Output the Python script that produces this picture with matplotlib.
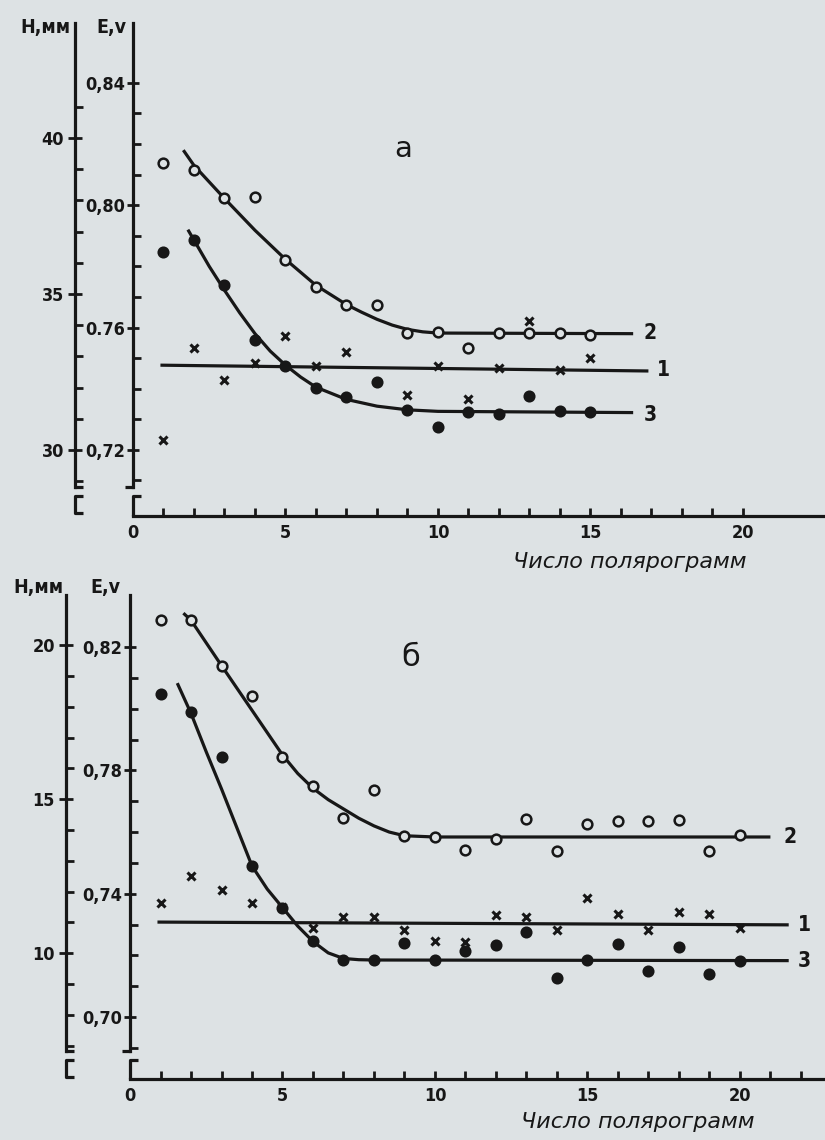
import matplotlib
matplotlib.use("Agg")
import matplotlib.pyplot as plt

plt.rcParams["font.family"] = ["DejaVu Sans"]

PAPER = "#dde2e4"
INK = "#171717"

# ---------- panel а (upper) ----------
a_x = [1, 2, 3, 4, 5, 6, 7, 8, 9, 10, 11, 12, 13, 14, 15]
a_e2 = [0.8137, 0.8115, 0.8025, 0.8028, 0.7821, 0.7734, 0.7674, 0.7674,
        0.7581, 0.7586, 0.7532, 0.7581, 0.7581, 0.7581, 0.7576]
a_e3 = [0.7848, 0.7886, 0.7739, 0.7559, 0.7475, 0.7404, 0.7374, 0.7423,
        0.7330, 0.7276, 0.7325, 0.7317, 0.7376, 0.7328, 0.7325]
a_x1 = [1, 2, 3, 4, 5, 6, 7, 9, 10, 11, 12, 13, 14, 15]
a_e1 = [0.7232, 0.7532, 0.7428, 0.7483, 0.7572, 0.7475, 0.7519, 0.7379,
        0.7475, 0.7365, 0.7467, 0.7622, 0.7461, 0.7499]
# hand drawn curves of the original
a_c2x = [1.65, 2, 3, 4, 5, 6, 7, 7.5, 8, 8.5, 9, 9.5, 10, 16.4]
a_c2e = [0.8180, 0.8130, 0.8022, 0.7918, 0.7823, 0.7738, 0.7675, 0.7650,
         0.7627, 0.7608, 0.7594, 0.7586, 0.7582, 0.7580]
a_c3x = [1.8, 2, 2.5, 3, 3.5, 4, 4.5, 5, 5.5, 6, 7, 8, 9, 10, 16.4]
a_c3e = [0.7920, 0.7886, 0.7800, 0.7722, 0.7648, 0.7580, 0.7523, 0.7477,
         0.7438, 0.7405, 0.7365, 0.7343, 0.7331, 0.7326, 0.7322]
a_c1x = [0.9, 16.9]
a_c1e = [0.7477, 0.7458]
a_lab = ["2", "1", "3"]
a_labx = [16.95, 17.4, 16.95]
a_labe = [0.7582, 0.7462, 0.7315]
a_eticks = [0.72, 0.76, 0.80, 0.84]
a_elabels = ["0,72", "0.76", "0,80", "0,84"]
a_eminor = [0.71, 0.73, 0.74, 0.75, 0.77, 0.78, 0.79, 0.81, 0.82, 0.83]
a_hticks = [30, 35, 40]
a_hminor = [29, 31, 32, 33, 34, 36, 37, 38, 39, 41]
a_href = [30, 40]
a_eref = [0.72, 0.822]

# ---------- panel б (lower) ----------
b_x = list(range(1, 21))
b_e2 = [0.8289, 0.8287, 0.8138, 0.8040, 0.7845, 0.7749, 0.7646, 0.7735,
        0.7586, 0.7583, 0.7543, 0.7578, 0.7641, 0.7538, 0.7627, 0.7635,
        0.7635, 0.7639, 0.7538, 0.7589]
b_e1 = [0.7369, 0.7456, 0.7413, 0.7369, 0.7358, 0.7288, 0.7323, 0.7326,
        0.7282, 0.7246, 0.7244, 0.7331, 0.7326, 0.7282, 0.7386, 0.7334,
        0.7282, 0.7340, 0.7334, 0.7290]
b_e3 = [0.8048, 0.7988, 0.7842, 0.7489, 0.7353, 0.7246, 0.7185, 0.7185,
        0.7239, 0.7185, 0.7214, 0.7233, 0.7277, 0.7127, 0.7185, 0.7237,
        0.7149, 0.7226, 0.7139, 0.7182]
b_c2x = [1.75, 2, 3, 4, 5, 5.5, 6, 6.5, 7, 7.5, 8, 8.5, 9, 10, 21.0]
b_c2e = [0.8310, 0.8287, 0.8140, 0.7995, 0.7850, 0.7790, 0.7742, 0.7705,
         0.7675, 0.7645, 0.7620, 0.7600, 0.7588, 0.7584, 0.7584]
b_c3x = [1.55, 2, 2.5, 3, 3.5, 4, 4.5, 5, 5.5, 6, 6.5, 7, 7.5, 8, 21.6]
b_c3e = [0.8083, 0.7985, 0.7860, 0.7740, 0.7615, 0.7490, 0.7415, 0.7355,
         0.7295, 0.7245, 0.7208, 0.7190, 0.7186, 0.7185, 0.7183]
b_c1x = [0.9, 21.6]
b_c1e = [0.7308, 0.7299]
b_lab = ["2", "1", "3"]
b_labx = [21.65, 22.1, 22.1]
b_labe = [0.7584, 0.7300, 0.7183]
b_eticks = [0.70, 0.74, 0.78, 0.82]
b_elabels = ["0,70", "0,74", "0,78", "0,82"]
b_eminor = [0.69, 0.71, 0.72, 0.73, 0.75, 0.76, 0.77, 0.79, 0.80, 0.81]
b_hticks = [10, 15, 20]
b_hminor = [7, 8, 9, 11, 12, 13, 14, 16, 17, 18, 19]
b_href = [10, 20]
b_eref = [0.7207, 0.8206]

x_major = [0, 5, 10, 15, 20]
x_label = "Число полярограмм"

fig = plt.figure(figsize=(8.25, 11.4), dpi=100, facecolor=PAPER)

TXT = dict(color=INK, family="DejaVu Sans", fontweight="bold",
           fontstretch="condensed")


def panel(rect, xlim, ylim, hloc, xminor, eticks, elabels, eminor,
          hticks, hminor, href, eref):
    ax = fig.add_axes(rect)
    ax.set_facecolor("none")
    ax.set_xlim(xlim)
    ax.set_ylim(ylim)
    for s in ["top", "right"]:
        ax.spines[s].set_visible(False)
    for s in ["left", "bottom"]:
        ax.spines[s].set_linewidth(2.3)
        ax.spines[s].set_color(INK)

    ax.set_yticks(eticks, elabels)
    ax.set_yticks(eminor, minor=True)
    ax.set_xticks(x_major, [str(v) for v in x_major])
    ax.set_xticks(xminor, minor=True)
    ax.tick_params(axis="y", which="major", direction="inout", length=9,
                   width=2, pad=1, colors=INK)
    ax.tick_params(axis="y", which="minor", direction="in", length=6,
                   width=2, colors=INK)
    ax.tick_params(axis="x", which="both", direction="in", length=6,
                   width=2, pad=6, colors=INK)
    for t in ax.get_yticklabels() + ax.get_xticklabels():
        t.set_fontsize(13)
        t.set_fontweight("bold")
        t.set_fontstretch("condensed")

    # second scale: H, mm
    k = (href[1] - href[0]) / (eref[1] - eref[0])
    hl = [href[0] + (y - eref[0]) * k for y in ylim]
    axh = ax.twinx()
    axh.set_ylim(hl)
    for s in ["top", "right", "bottom"]:
        axh.spines[s].set_visible(False)
    axh.spines["left"].set_visible(True)
    axh.spines["left"].set_position(("axes", hloc))
    axh.spines["left"].set_linewidth(2.3)
    axh.spines["left"].set_color(INK)
    axh.yaxis.set_ticks_position("left")
    axh.set_yticks(hticks, [str(v) for v in hticks])
    axh.set_yticks(hminor, minor=True)
    axh.tick_params(axis="y", which="major", direction="inout", length=10,
                    width=2, pad=3, colors=INK)
    axh.tick_params(axis="y", which="minor", direction="in", length=6,
                    width=2, colors=INK)
    for t in axh.get_yticklabels():
        t.set_fontsize(13)
        t.set_fontweight("bold")
        t.set_fontstretch("condensed")

    # broken axes near the origin
    up, lo = 0.058, 0.040
    ax.spines["left"].set_bounds(ylim[0] + up * (ylim[1] - ylim[0]), ylim[1])
    axh.spines["left"].set_bounds(hl[0] + up * (hl[1] - hl[0]), hl[1])
    kw = dict(transform=ax.transAxes, clip_on=False, color=INK, lw=2.3,
              solid_capstyle="butt")
    ax.plot([-0.012, 0.002], [up, up], **kw)
    ax.plot([0, 0, 0.012], [0, lo, lo], **kw)
    ax.plot([hloc - 0.002, hloc + 0.012], [up, up], **kw)
    ax.plot([hloc + 0.012, hloc, hloc, hloc + 0.012], [0.005, 0.005, lo, lo], **kw)
    return ax


def data(ax, x, e2, e3, x1, e1, c2x, c2e, c3x, c3e, c1x, c1e,
         lab, labx, labe):
    line = dict(color=INK, lw=2.3, solid_capstyle="butt", zorder=3)
    ax.plot(c2x, c2e, **line)
    ax.plot(c3x, c3e, **line)
    ax.plot(c1x, c1e, **line)
    ax.plot(x, e2, "o", ms=7, mfc=PAPER, mec=INK, mew=1.8, zorder=4,
            clip_on=False)
    ax.plot(x, e3, "o", ms=7.5, mfc=INK, mec=INK, mew=1.2, zorder=4)
    ax.plot(x1, e1, "x", ms=5.5, mew=2.2, color=INK, zorder=4)
    for s, lx, le in zip(lab, labx, labe):
        ax.text(lx, le, s, ha="center", va="center", fontsize=15, **TXT)


ax_a = panel([0.1612, 0.5474, 0.8388, 0.4325], (0, 22.69), (0.6984, 0.8596),
             -0.0838, list(range(1, 21)), a_eticks, a_elabels, a_eminor,
             a_hticks, a_hminor, a_href, a_eref)
data(ax_a, a_x, a_e2, a_e3, a_x1, a_e1, a_c2x, a_c2e, a_c3x, a_c3e,
     a_c1x, a_c1e, a_lab, a_labx, a_labe)
ax_a.text(8.85, 0.8185, "а", ha="center", va="center", fontsize=21,
          color=INK)
ax_a.text(0.718, -0.093, x_label, transform=ax_a.transAxes, ha="center",
          va="center", fontsize=16, fontstyle="italic", color=INK)

ax_b = panel([0.1576, 0.0535, 0.8424, 0.4246], (0, 22.79), (0.6799, 0.8369),
             -0.0921, list(range(1, 23)), b_eticks, b_elabels, b_eminor,
             b_hticks, b_hminor, b_href, b_eref)
data(ax_b, b_x, b_e2, b_e3, b_x, b_e1, b_c2x, b_c2e, b_c3x, b_c3e,
     b_c1x, b_c1e, b_lab, b_labx, b_labe)
ax_b.text(9.2, 0.8165, "б", ha="center", va="center", fontsize=22,
          color=INK)
ax_b.text(0.731, -0.089, x_label, transform=ax_b.transAxes, ha="center",
          va="center", fontsize=16, fontstyle="italic", color=INK)

fig.text(45 / 825, 1 - 27 / 1140, "H,мм", ha="center", va="center",
         fontsize=14, **TXT)
fig.text(111 / 825, 1 - 27 / 1140, "E,v", ha="center", va="center",
         fontsize=14, **TXT)
fig.text(38 / 825, 1 - 587 / 1140, "H,мм", ha="center", va="center",
         fontsize=14, **TXT)
fig.text(105 / 825, 1 - 587 / 1140, "E,v", ha="center", va="center",
         fontsize=14, **TXT)

fig.savefig("out.png", dpi=100, facecolor=PAPER)
